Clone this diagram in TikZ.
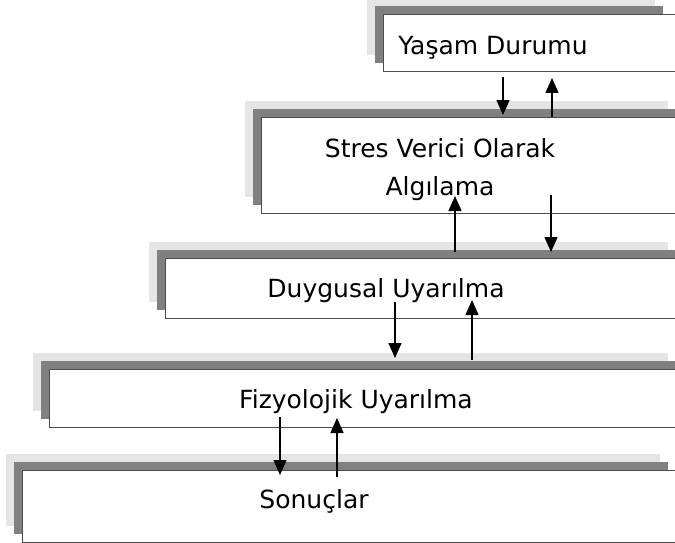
\documentclass[tikz,border=0pt]{standalone}
\usepackage{fontspec}
\setmainfont{DejaVu Sans}
\usetikzlibrary{arrows.meta}

\begin{document}
\begin{tikzpicture}
[x=1pt,y=-1pt,
  boxdecorate/.style={shape=rectangle,draw=black!70,fill=white,line width=1.2pt,inner sep=0pt},%
  lightshade/.style={fill=black!10},%
  darkshade/.style={fill=black!50},%
  textdecorate/.style={font=\fontsize{25}{38}\selectfont,align=center,inner sep=0pt},%
  linedecorate/.style={-{Triangle[length=15pt,width=13pt]},line width=1.5pt}]
\useasboundingbox (0,0) rectangle (675,543);
\clip (0,0) rectangle (675,543);
%% boxes with their two shades
\foreach \boxname/\l/\t/\w/\h/\lr/\dr in {yasam/383/14/310/57/655/663,
  stres/261/117/432/96/668/680, duygu/165/258/528/60/668/680,
  fizyo/49/369/644/58/668/680, sonuc/22/470/671/72/660/668}
{
  \fill[lightshade] (\l-16,\t-16) rectangle (\lr,\t+\h-16);
  \fill[darkshade] (\l-8,\t-8) rectangle (\dr,\t+\h-8);
  \node (\boxname) at (\l,\t) [boxdecorate,anchor=north west,
    minimum width=\w pt,minimum height=\h pt] {};
}
%% texts
\node (yasamtext) at (493,55) [textdecorate,anchor=base] {Yaşam Durumu};
\node (strestext) at (440,170) [textdecorate] {Stres Verici Olarak\\ Algılama};
\node (duygutext) at (386,297) [textdecorate,anchor=base] {Duygusal Uyarılma};
\node (fizyotext) at (356,408) [textdecorate,anchor=base] {Fizyolojik Uyarılma};
\node (sonuctext) at (314,508) [textdecorate,anchor=base] {Sonuçlar};
%% arrows
\foreach \arrowname/\x/\ya/\yb in {yasamdown/503/77/115, stresup/552/117/78,
  stresdown/551/195/252, duyguup/455/252/196, duygudown/395/302/358,
  fizyoup/472/360/300, fizyodown/280/417/475, sonucup/337/477/418}
{
  \coordinate (\arrowname1) at (\x,\ya);
  \coordinate (\arrowname2) at (\x,\yb);
  \draw[linedecorate] (\arrowname1) -- (\arrowname2);
}
\end{tikzpicture}
\end{document}
